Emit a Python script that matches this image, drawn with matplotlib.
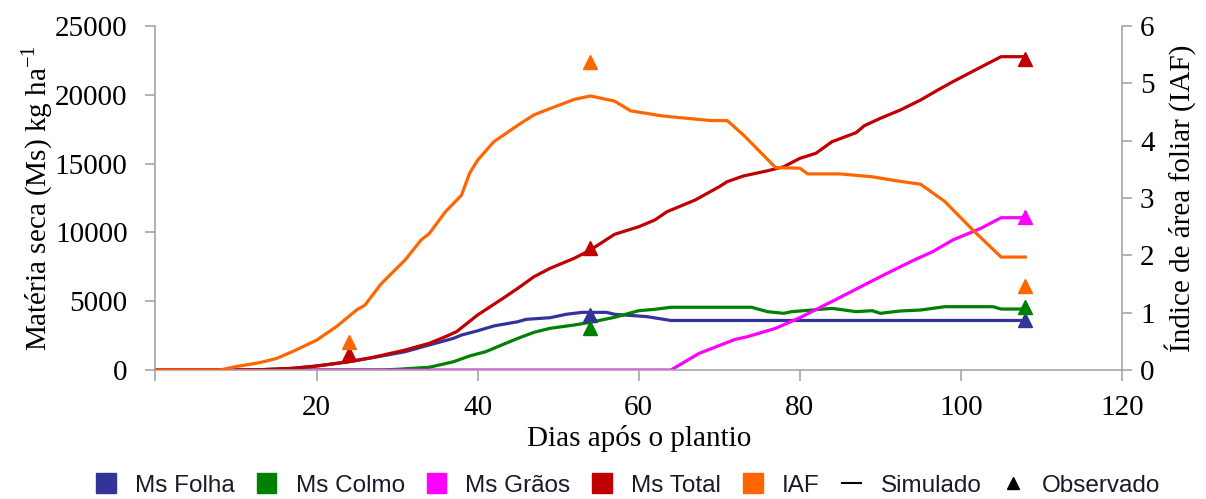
import matplotlib
matplotlib.use('Agg')
import matplotlib.pyplot as plt
from matplotlib.patches import Patch
from matplotlib.lines import Line2D

plt.rcParams['font.family'] = 'Liberation Serif'
plt.rcParams['mathtext.fontset'] = 'custom'
plt.rcParams['mathtext.rm'] = 'Liberation Serif'

# simulated series (dias apos o plantio, valor)
folha_dias = [0, 10, 13, 17, 20, 24, 27, 31, 34, 37, 38, 40, 42, 45, 46, 49, 51, 53, 56, 57, 61, 64, 108]
folha_sim = [0, 0, 20, 120, 290, 600, 900, 1330, 1820, 2300, 2540, 2850, 3200, 3510, 3680, 3800, 4050,
             4190, 4190, 4050, 3880, 3600, 3600]

colmo_dias = [0, 28, 30, 34, 37, 39, 41, 43, 45, 47, 49, 52, 54, 57, 60, 62, 64, 74, 76, 78, 79, 84, 87,
              89, 90, 92.5, 95, 98, 104, 105, 108]
colmo_sim = [0, 0, 50, 200, 600, 1020, 1330, 1820, 2300, 2740, 3030, 3270, 3470, 3830, 4310, 4410, 4560,
             4560, 4240, 4120, 4240, 4480, 4240, 4310, 4120, 4290, 4360, 4600, 4600, 4430, 4430]

graos_dias = [0, 64, 67.5, 72, 73.5, 77, 80, 84, 88, 90, 94, 96.5, 99, 102.5, 105, 108]
graos_sim = [0, 0, 1210, 2230, 2420, 3030, 3800, 4980, 6180, 6780, 7940, 8600, 9450, 10300, 11070, 11070]

total_dias = [0, 10, 13, 17, 20, 24, 27, 31, 34, 36, 37.4, 40, 43, 45, 47, 49, 52, 54, 57, 60, 62, 63.5,
              67, 70, 71, 73, 76, 78, 80, 82, 84, 87, 88, 90, 92.5, 95, 97, 99, 101, 103, 105, 108]
total_sim = [0, 0, 20, 120, 290, 600, 920, 1450, 1940, 2420, 2790, 4000, 5150, 5940, 6780, 7390, 8120,
             8720, 9860, 10410, 10900, 11500, 12350, 13320, 13690, 14100, 14480, 14770, 15380, 15750,
             16590, 17250, 17750, 18290, 18900, 19620, 20300, 20950, 21560, 22170, 22770, 22770]

iaf_dias = [0, 8, 10, 13, 15, 17, 20, 22.5, 25, 26, 28, 31, 33, 34, 36, 38, 39, 40, 42, 45, 47, 49, 52,
            54, 57, 59, 63, 66, 69, 71, 73, 77, 80, 81, 85, 89, 92, 95, 98, 101.5, 105, 108]
iaf_sim = [0, 0, 0.06, 0.13, 0.2, 0.32, 0.52, 0.76, 1.05, 1.13, 1.5, 1.92, 2.27, 2.38, 2.76, 3.05, 3.43,
           3.66, 3.98, 4.27, 4.45, 4.56, 4.72, 4.78, 4.69, 4.52, 4.43, 4.39, 4.35, 4.35, 4.10, 3.53, 3.52,
           3.42, 3.42, 3.37, 3.30, 3.24, 2.94, 2.44, 1.97, 1.97]

# observed values
obs_dias = [24, 54, 108]
folha_obs = [None, 4000, 3630]
colmo_obs = [None, 3050, 4550]
graos_obs = [None, None, 11090]
total_obs = [1140, 8840, 22600]
iaf_obs = [0.49, 5.38, 1.47]

c_folha = '#333399'
c_colmo = '#008000'
c_graos = '#FF00FF'
c_total = '#C00000'
c_iaf = '#FF6600'
c_axis = '#A6A6A6'

fig = plt.figure(figsize=(12.06, 4.99), dpi=100)
ax = fig.add_axes([0.1289, 0.2585, 0.8014, 0.6894])
ax2 = ax.twinx()

lw = 2.3
ax.plot(folha_dias, folha_sim, color=c_folha, lw=lw)
ax.plot(colmo_dias, colmo_sim, color=c_colmo, lw=lw)
ax.plot(graos_dias, graos_sim, color=c_graos, lw=lw)
ax.plot(total_dias, total_sim, color=c_total, lw=lw)
ax2.plot(iaf_dias, iaf_sim, color=c_iaf, lw=lw)


def obs_points(dias, vals):
    pts = [(d, v) for d, v in zip(dias, vals) if v is not None]
    return [p[0] for p in pts], [p[1] for p in pts]


ms = 10
for vals, col in [(folha_obs, c_folha), (colmo_obs, c_colmo), (graos_obs, c_graos), (total_obs, c_total)]:
    xs, ys = obs_points(obs_dias, vals)
    ax.plot(xs, ys, ls='none', marker='^', ms=ms, color=col, zorder=5)
ax2.plot(obs_dias, iaf_obs, ls='none', marker='^', ms=ms, color=c_iaf, zorder=5)

ax.set_xlim(0, 120)
ax.set_ylim(0, 25000)
ax2.set_ylim(0, 6)
ax.set_xticks([0, 20, 40, 60, 80, 100, 120])
ax.set_xticklabels(['', '20', '40', '60', '80', '100', '120'])
ax.set_yticks([0, 5000, 10000, 15000, 20000, 25000])
ax2.set_yticks([0, 1, 2, 3, 4, 5, 6])

for a in (ax, ax2):
    a.spines['top'].set_visible(False)
    for s in ('left', 'right', 'bottom'):
        a.spines[s].set_color(c_axis)
        a.spines[s].set_linewidth(1.2)
ax.spines['right'].set_visible(False)
ax2.spines['left'].set_visible(False)
ax2.spines['bottom'].set_visible(False)

ax.tick_params(axis='x', direction='out', length=8, width=1.2, color=c_axis, labelsize=21, pad=10)
ax.tick_params(axis='y', direction='out', length=7, width=1.2, color=c_axis, labelsize=21, pad=13)
ax2.tick_params(axis='y', direction='out', length=7, width=1.2, color=c_axis, labelsize=21, pad=6)

ax.set_xlabel('Dias após o plantio', fontsize=21, labelpad=3)
ax.set_ylabel('Matéria seca (Ms) kg ha$^{-1}$', fontsize=21, labelpad=0)
ax2.set_ylabel('Índice de área foliar (IAF)', fontsize=21, labelpad=7)

handles = [Patch(color=c_folha, label='Ms Folha'),
           Patch(color=c_colmo, label='Ms Colmo'),
           Patch(color=c_graos, label='Ms Grãos'),
           Patch(color=c_total, label='Ms Total'),
           Patch(color=c_iaf, label='IAF'),
           Line2D([], [], color='black', lw=1.5, label='Simulado'),
           Line2D([], [], color='black', ls='none', marker='^', ms=8, label='Observado')]
fig.legend(handles=handles, loc='center', bbox_to_anchor=(0.521, 0.028), ncol=7, frameon=False,
           prop={'family': 'Liberation Sans', 'size': 17.5}, handlelength=0.8, handleheight=0.85,
           handletextpad=0.8, columnspacing=0.9, borderaxespad=0, labelcolor='#1a1a2a')

fig.savefig('out.png', dpi=100)
